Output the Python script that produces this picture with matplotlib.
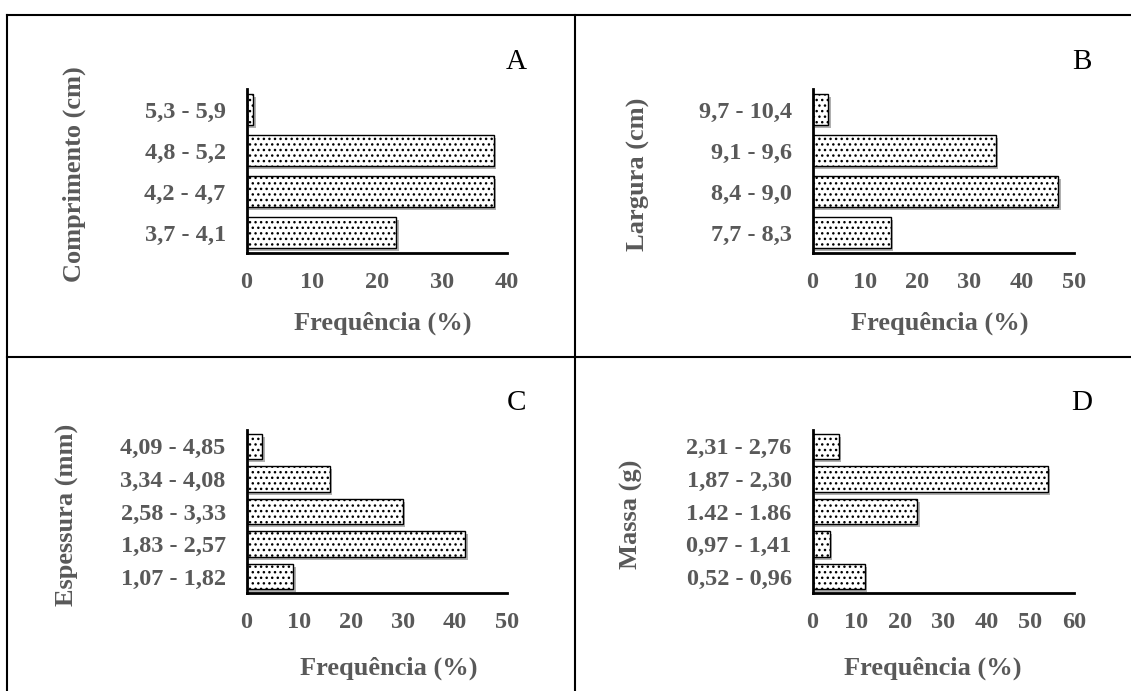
import matplotlib
matplotlib.use("Agg")
import matplotlib.pyplot as plt
from matplotlib.lines import Line2D
from matplotlib.transforms import offset_copy

plt.rcParams['font.family'] = ['Liberation Serif', 'DejaVu Serif']
plt.rcParams['hatch.linewidth'] = 1.0

# dados (frequência %)
comp_cls = ['3,7 - 4,1', '4,2 - 4,7', '4,8 - 5,2', '5,3 - 5,9']
comp_freq = [23, 38, 38, 1]

larg_cls = ['7,7 - 8,3', '8,4 - 9,0', '9,1 - 9,6', '9,7 - 10,4']
larg_freq = [15, 47, 35, 3]

esp_cls = ['1,07 - 1,82', '1,83 - 2,57', '2,58 - 3,33', '3,34 - 4,08', '4,09 - 4,85']
esp_freq = [9, 42, 30, 16, 3]

massa_cls = ['0,52 - 0,96', '0,97 - 1,41', '1.42 - 1.86', '1,87 - 2,30', '2,31 - 2,76']
massa_freq = [12, 4, 24, 54, 6]

W, H = 1131, 691
fig = plt.figure(figsize=(W / 100, H / 100), dpi=100)

gray = '#595959'


def fx(x):
    return x / W


def fy(y):
    return 1 - y / H


def painel(box, cls, freq, xmax, ylabel, letra, ylab_x, letra_x, xlab_x, xlab_y):
    left, top, right, bottom = box
    ax = fig.add_axes([fx(left), fy(bottom), (right - left) / W, (bottom - top) / H])
    pos = list(range(len(cls)))
    sombra = offset_copy(ax.transData, fig=fig, x=2.5, y=-3, units='dots')
    ax.barh(pos, freq, height=0.78, color='#b0b0b0', edgecolor='none',
            transform=sombra, zorder=1)
    ax.barh(pos, freq, height=0.78, color='white', edgecolor='black',
            linewidth=1.0, hatch='...', zorder=2)
    ax.set_xlim(0, xmax)
    ax.set_ylim(-0.5, len(cls) - 0.5)
    ax.set_xticks(range(0, xmax + 1, 10))
    ax.set_yticks(pos)
    ax.set_yticklabels(cls)
    for s in ['top', 'right']:
        ax.spines[s].set_visible(False)
    for s in ['left', 'bottom']:
        ax.spines[s].set_linewidth(2)
        ax.spines[s].set_zorder(3)
    ax.tick_params(axis='x', length=0, pad=13.5, labelsize=17.5, labelcolor=gray)
    ax.tick_params(axis='y', length=0, pad=15, labelsize=17.5, labelcolor=gray)
    for t in ax.get_xticklabels() + ax.get_yticklabels():
        t.set_fontweight('bold')
    fig.text(fx(xlab_x), fy(xlab_y), 'Frequência (%)', ha='center', va='center',
             fontsize=19, fontweight='bold', color=gray)
    fig.text(fx(ylab_x), fy((top + bottom) / 2 + 3), ylabel, ha='center', va='center',
             rotation=90, fontsize=19, fontweight='bold', color=gray)
    fig.text(fx(letra_x), fy(top - 27), letra, ha='center', va='center',
             fontsize=21, color='black')
    return ax


painel((246.5, 89, 507, 253), comp_cls, comp_freq, 40, 'Comprimento (cm)', 'A', 74, 516, 383, 323)
painel((812.5, 89, 1074, 253), larg_cls, larg_freq, 50, 'Largura (cm)', 'B', 638, 1082, 940, 323)
painel((246.5, 430, 507, 593), esp_cls, esp_freq, 50, 'Espessura (mm)', 'C', 67, 516, 389, 668)
painel((812.5, 430, 1074, 593), massa_cls, massa_freq, 60, 'Massa (g)', 'D', 631, 1082, 933, 668)

# moldura da tabela
for xs, ys in [((7, W), (15, 15)), ((7, W), (357, 357)),
               ((7, 7), (15, H)), ((575, 575), (15, H))]:
    fig.add_artist(Line2D([fx(v) for v in xs], [fy(v) for v in ys],
                          color='black', linewidth=1.5))

fig.savefig('out.png', dpi=100)
